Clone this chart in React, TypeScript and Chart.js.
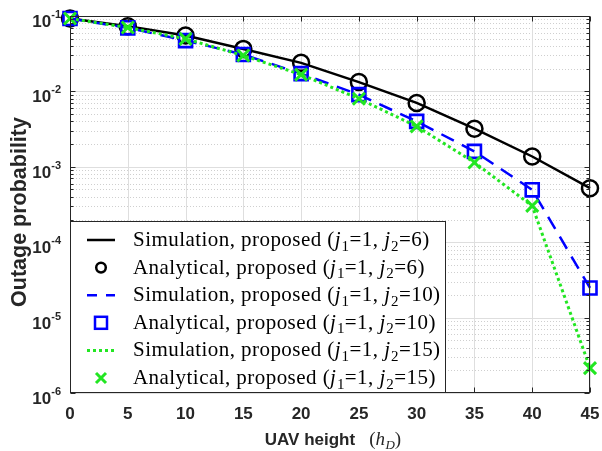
import React, { useEffect, useRef } from 'react';
import { Chart, registerables } from 'chart.js';

Chart.register(...registerables);

// ---------------- data ----------------
const X_VALUES = [0, 5, 10, 15, 20, 25, 30, 35, 40, 45];

const SIM_J6 = [0.0926, 0.0731, 0.0551, 0.0366, 0.0239, 0.0133, 0.00703, 0.0032, 0.00137, 0.00052];
const ANA_J6 = [0.0926, 0.0731, 0.0551, 0.0366, 0.0239, 0.0133, 0.00703, 0.0032, 0.00137, 0.00052];

const SIM_J10 = [0.0926, 0.0697, 0.0472, 0.0308, 0.0172, 0.00906, 0.0040, 0.0016, 0.000495, 0.0000247];
const ANA_J10 = [0.0926, 0.0697, 0.0472, 0.0308, 0.0172, 0.00906, 0.0040, 0.0016, 0.000495, 0.0000247];

const SIM_J15 = [0.0926, 0.0704, 0.0498, 0.0299, 0.0167, 0.0080, 0.00344, 0.00114, 0.000303, 0.00000214];
const ANA_J15 = [0.0926, 0.0704, 0.0498, 0.0299, 0.0167, 0.0080, 0.00344, 0.00114, 0.000303, 0.00000214];

const X_TICKS = [0, 5, 10, 15, 20, 25, 30, 35, 40, 45];
const Y_TICK_EXPONENTS = [-1, -2, -3, -4, -5, -6];
const Y_MINOR_MULTIPLES = [2, 3, 4, 5, 6, 7, 8, 9];
const Y_MIN = 1e-6;
const Y_MAX = 1e-1;

const X_TITLE = 'UAV height';
const X_TITLE_VAR = 'h';
const X_TITLE_SUB = 'D';
const Y_TITLE = 'Outage probability';

const LEGEND_KIND = ['Simulation', 'Analytical', 'Simulation', 'Analytical', 'Simulation', 'Analytical'];
const LEGEND_J1 = ['1', '1', '1', '1', '1', '1'];
const LEGEND_J2 = ['6', '6', '10', '10', '15', '15'];

// ---------------- styles ----------------
const AXIS = '#262626';
const SANS = '"Liberation Sans", Arial, Helvetica, sans-serif';
const SERIF = '"Liberation Serif", "Times New Roman", serif';
const BLACK = '#000000';
const BLUE = '#0000ff';
const GREEN = '#22e622';

type Marker = 'line-solid' | 'line-dash' | 'line-dot' | 'circle' | 'square' | 'x';
const LEGEND_MARK: Marker[] = ['line-solid', 'circle', 'line-dash', 'square', 'line-dot', 'x'];
const LEGEND_COLOR = [BLACK, BLACK, BLUE, BLUE, GREEN, GREEN];

function toPoints(ys: number[]) {
  return X_VALUES.map((x, i) => ({ x, y: ys[i] }));
}

type Seg = { t: string; k: 'rm' | 'it' | 'sub' | 'itsub' };

function setSegFont(ctx: CanvasRenderingContext2D, k: Seg['k'], size: number) {
  if (k === 'rm') ctx.font = `${size}px ${SERIF}`;
  else if (k === 'it') ctx.font = `italic ${size}px ${SERIF}`;
  else if (k === 'sub') ctx.font = `${Math.round(size * 0.7)}px ${SERIF}`;
  else ctx.font = `italic ${Math.round(size * 0.7)}px ${SERIF}`;
}

function drawSegs(ctx: CanvasRenderingContext2D, x: number, base: number, segs: Seg[], size: number) {
  let cx = x;
  for (const s of segs) {
    setSegFont(ctx, s.k, size);
    const dy = s.k === 'sub' || s.k === 'itsub' ? size * 0.22 : 0;
    ctx.fillText(s.t, cx, base + dy);
    cx += ctx.measureText(s.t).width + (s.k === 'it' ? 0.5 : 0);
  }
  return cx - x;
}

function measureSegs(ctx: CanvasRenderingContext2D, segs: Seg[], size: number) {
  let w = 0;
  for (const s of segs) {
    setSegFont(ctx, s.k, size);
    w += ctx.measureText(s.t).width + (s.k === 'it' ? 0.5 : 0);
  }
  return w;
}

function drawMarker(ctx: CanvasRenderingContext2D, m: Marker, cx: number, cy: number, color: string) {
  ctx.save();
  ctx.strokeStyle = color;
  ctx.lineCap = 'butt';
  if (m.startsWith('line')) {
    ctx.lineWidth = m === 'line-dot' ? 3 : 2.5;
    if (m === 'line-dash') ctx.setLineDash([10, 9]);
    if (m === 'line-dot') ctx.setLineDash([3, 3]);
    ctx.beginPath();
    ctx.moveTo(cx - 14, cy);
    ctx.lineTo(cx + 14, cy);
    ctx.stroke();
  } else if (m === 'circle') {
    ctx.lineWidth = 2.5;
    ctx.beginPath();
    ctx.arc(cx, cy, 4.8, 0, Math.PI * 2);
    ctx.stroke();
  } else if (m === 'square') {
    ctx.lineWidth = 2.5;
    ctx.strokeRect(cx - 6, cy - 6, 12, 12);
  } else {
    ctx.lineWidth = 3;
    ctx.beginPath();
    ctx.moveTo(cx - 5, cy - 5);
    ctx.lineTo(cx + 5, cy + 5);
    ctx.moveTo(cx + 5, cy - 5);
    ctx.lineTo(cx - 5, cy + 5);
    ctx.stroke();
  }
  ctx.restore();
}

const decor = {
  id: 'decor',
  beforeDraw(chart: any) {
    const ctx = chart.ctx as CanvasRenderingContext2D;
    ctx.save();
    ctx.fillStyle = '#ffffff';
    ctx.fillRect(0, 0, chart.width, chart.height);
    ctx.restore();
  },
  beforeDatasetsDraw(chart: any) {
    const ctx = chart.ctx as CanvasRenderingContext2D;
    const a = chart.chartArea;
    const xs = chart.scales.x;
    const ys = chart.scales.y;
    ctx.save();
    ctx.lineWidth = 1;
    // minor y grid (dotted)
    ctx.strokeStyle = '#cfcfcf';
    ctx.setLineDash([1, 2]);
    for (const e of Y_TICK_EXPONENTS) {
      for (const m of Y_MINOR_MULTIPLES) {
        const v = m * Math.pow(10, e);
        if (v <= Y_MIN || v >= Y_MAX) continue;
        const py = Math.round(ys.getPixelForValue(v)) + 0.5;
        ctx.beginPath();
        ctx.moveTo(a.left, py);
        ctx.lineTo(a.right, py);
        ctx.stroke();
      }
    }
    // major grid
    ctx.setLineDash([]);
    ctx.strokeStyle = '#dedede';
    for (const e of Y_TICK_EXPONENTS) {
      const py = Math.round(ys.getPixelForValue(Math.pow(10, e))) + 0.5;
      ctx.beginPath();
      ctx.moveTo(a.left, py);
      ctx.lineTo(a.right, py);
      ctx.stroke();
    }
    for (const t of X_TICKS) {
      const px = Math.round(xs.getPixelForValue(t)) + 0.5;
      ctx.beginPath();
      ctx.moveTo(px, a.top);
      ctx.lineTo(px, a.bottom);
      ctx.stroke();
    }
    ctx.restore();
  },
  afterDatasetsDraw(chart: any) {
    const ctx = chart.ctx as CanvasRenderingContext2D;
    const a = chart.chartArea;
    const xs = chart.scales.x;
    const ys = chart.scales.y;
    ctx.save();
    // axes box
    ctx.strokeStyle = AXIS;
    ctx.lineWidth = 1;
    const L = Math.round(a.left) + 0.5, R = Math.round(a.right) - 0.5;
    const T = Math.round(a.top) + 0.5, B = Math.round(a.bottom) - 0.5;
    ctx.strokeRect(L, T, R - L, B - T);
    // ticks
    ctx.beginPath();
    for (const t of X_TICKS) {
      const px = Math.round(xs.getPixelForValue(t)) + 0.5;
      ctx.moveTo(px, B); ctx.lineTo(px, B - 5);
      ctx.moveTo(px, T); ctx.lineTo(px, T + 5);
    }
    for (const e of Y_TICK_EXPONENTS) {
      const py = Math.round(ys.getPixelForValue(Math.pow(10, e))) + 0.5;
      ctx.moveTo(L, py); ctx.lineTo(L + 5, py);
      ctx.moveTo(R, py); ctx.lineTo(R - 5, py);
      for (const m of Y_MINOR_MULTIPLES) {
        const v = m * Math.pow(10, e);
        if (v <= Y_MIN || v >= Y_MAX) continue;
        const pm = Math.round(ys.getPixelForValue(v)) + 0.5;
        ctx.moveTo(L, pm); ctx.lineTo(L + 3, pm);
        ctx.moveTo(R, pm); ctx.lineTo(R - 3, pm);
      }
    }
    ctx.stroke();

    // x tick labels
    ctx.fillStyle = AXIS;
    ctx.font = `bold 17px ${SANS}`;
    ctx.textAlign = 'center';
    ctx.textBaseline = 'alphabetic';
    for (const t of X_TICKS) {
      ctx.fillText(String(t), xs.getPixelForValue(t), 419);
    }
    // y tick labels 10^e
    ctx.textAlign = 'left';
    for (const e of Y_TICK_EXPONENTS) {
      const py = ys.getPixelForValue(Math.pow(10, e));
      const sup = String(e);
      ctx.font = `bold 11px ${SANS}`;
      const w2 = ctx.measureText(sup).width;
      ctx.font = `bold 17px ${SANS}`;
      const w1 = ctx.measureText('10').width;
      const right = 61;
      ctx.fillText('10', right - w2 - w1, py + 11);
      ctx.font = `bold 11px ${SANS}`;
      ctx.fillText(sup, right - w2, py + 2);
    }
    // y title
    ctx.save();
    ctx.translate(25.5, 212);
    ctx.rotate(-Math.PI / 2);
    ctx.textAlign = 'center';
    ctx.font = `bold 21.5px ${SANS}`;
    ctx.fillText(Y_TITLE, 0, 0);
    ctx.restore();
    // x title
    ctx.font = `bold 17px ${SANS}`;
    const wt = ctx.measureText(X_TITLE).width;
    const mathSegs: Seg[] = [
      { t: '(', k: 'rm' },
      { t: X_TITLE_VAR, k: 'it' },
      { t: X_TITLE_SUB, k: 'itsub' },
      { t: ')', k: 'rm' },
    ];
    const wm = measureSegs(ctx, mathSegs, 19);
    const gap = 14;
    const start = (a.left + a.right) / 2 - (wt + gap + wm) / 2 + 3;
    ctx.font = `bold 17px ${SANS}`;
    ctx.textAlign = 'left';
    ctx.fillText(X_TITLE, start, 445);
    drawSegs(ctx, start + wt + gap, 445, mathSegs, 19);

    // legend
    const lx = Math.round(a.left) + 0.5;
    const lt = 221.5;
    const lr = 445.5;
    const lb = B;
    ctx.fillStyle = '#ffffff';
    ctx.fillRect(lx, lt, lr - lx, lb - lt);
    ctx.strokeStyle = AXIS;
    ctx.lineWidth = 1;
    ctx.strokeRect(lx, lt, lr - lx, lb - lt);
    const size = 21;
    (ctx as any).letterSpacing = '0.45px';
    for (let i = 0; i < LEGEND_KIND.length; i++) {
      const cy = 240 + i * 27.6;
      drawMarker(ctx, LEGEND_MARK[i], 101, cy, LEGEND_COLOR[i]);
      ctx.fillStyle = '#000000';
      ctx.textAlign = 'left';
      const segs: Seg[] = [
        { t: `${LEGEND_KIND[i]}, proposed (`, k: 'rm' },
        { t: 'j', k: 'it' },
        { t: '1', k: 'sub' },
        { t: `=${LEGEND_J1[i]}, `, k: 'rm' },
        { t: 'j', k: 'it' },
        { t: '2', k: 'sub' },
        { t: `=${LEGEND_J2[i]})`, k: 'rm' },
      ];
      drawSegs(ctx, 133, cy + 6, segs, size);
    }
    (ctx as any).letterSpacing = '0px';
    ctx.restore();
  },
};

export default function App() {
  const ref = useRef<HTMLCanvasElement>(null);
  useEffect(() => {
    document.body.style.margin = '0';
    const canvas = ref.current!;
    const chart = new Chart(canvas, {
      type: 'line',
      data: {
        datasets: [
          {
            label: 'Simulation j2=6',
            data: toPoints(SIM_J6),
            borderColor: BLACK,
            borderWidth: 2.5,
            pointRadius: 0,
            fill: false,
            tension: 0,
            order: 6,
            clip: false,
          },
          {
            label: 'Analytical j2=6',
            data: toPoints(ANA_J6),
            showLine: false,
            pointStyle: 'circle',
            pointRadius: 8,
            pointBorderWidth: 2.5,
            pointBorderColor: BLACK,
            pointBackgroundColor: 'rgba(0,0,0,0)',
            borderColor: BLACK,
            order: 5,
            clip: false,
          },
          {
            label: 'Simulation j2=10',
            data: toPoints(SIM_J10),
            borderColor: BLUE,
            borderWidth: 2.5,
            borderDash: [14, 9],
            pointRadius: 0,
            fill: false,
            tension: 0,
            order: 4,
            clip: false,
          },
          {
            label: 'Analytical j2=10',
            data: toPoints(ANA_J10),
            showLine: false,
            pointStyle: 'rect',
            pointRadius: 9.2,
            pointBorderWidth: 2.6,
            pointBorderColor: BLUE,
            pointBackgroundColor: 'rgba(0,0,0,0)',
            borderColor: BLUE,
            order: 3,
            clip: false,
          },
          {
            label: 'Simulation j2=15',
            data: toPoints(SIM_J15),
            borderColor: GREEN,
            borderWidth: 3,
            borderDash: [3, 3],
            pointRadius: 0,
            fill: false,
            tension: 0,
            order: 2,
            clip: false,
          },
          {
            label: 'Analytical j2=15',
            data: toPoints(ANA_J15),
            showLine: false,
            pointStyle: 'crossRot',
            pointRadius: 8.5,
            pointBorderWidth: 3,
            pointBorderColor: GREEN,
            borderColor: GREEN,
            order: 1,
            clip: false,
          },
        ] as any,
      },
      options: {
        animation: false,
        responsive: false,
        maintainAspectRatio: false,
        devicePixelRatio: 1,
        events: [],
        layout: { padding: { left: 70, right: 12, top: 16, bottom: 58 } },
        scales: {
          x: { type: 'linear', min: 0, max: 45, display: false },
          y: { type: 'logarithmic', min: Y_MIN, max: Y_MAX, display: false },
        },
        plugins: {
          legend: { display: false },
          tooltip: { enabled: false },
          title: { display: false },
        },
      } as any,
      plugins: [decor],
    });
    return () => chart.destroy();
  }, []);
  return (
    <div style={{ position: 'fixed', left: 0, top: 0, width: 602, height: 451, background: '#fff' }}>
      <canvas ref={ref} width={602} height={451} style={{ display: 'block', width: 602, height: 451 }} />
    </div>
  );
}
